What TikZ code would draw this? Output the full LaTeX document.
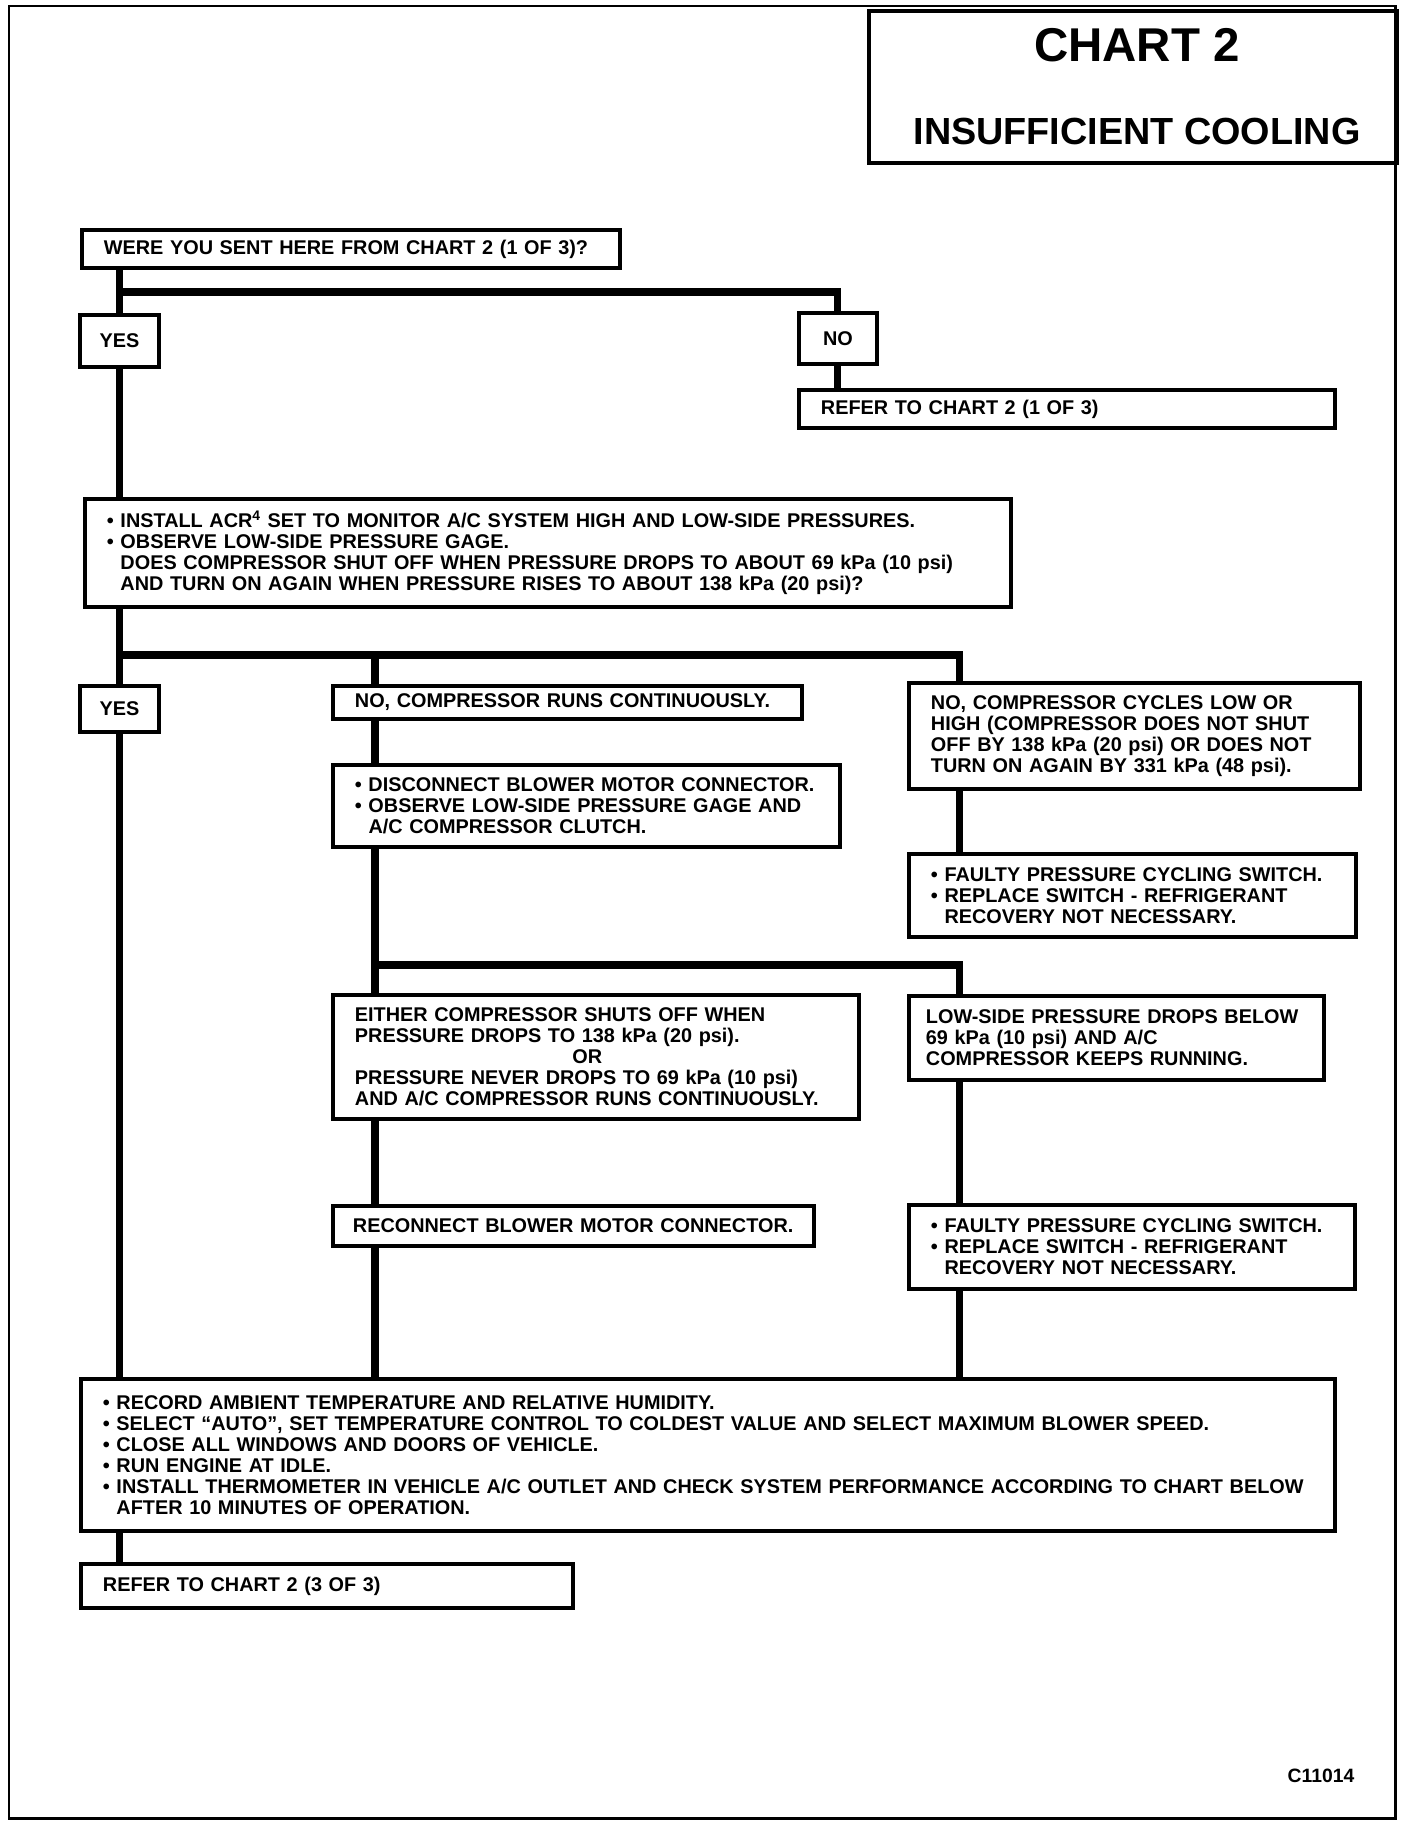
\documentclass[tikz,border=0pt]{standalone}
\usepackage{fontspec}
\setmainfont{Liberation Sans}
\usetikzlibrary{positioning,calc}

\begin{document}
\begin{tikzpicture}[
    x=0.02cm, y=-0.02cm,
    box/.style={draw, line width=2.2pt, anchor=north west, inner xsep=0.44cm, inner ysep=0pt, align=left, font=\fontsize{11.3}{12}\selectfont\bfseries},
    tag/.style={box, align=center, inner xsep=0pt},
    conn/.style={line width=4pt}
]
\useasboundingbox (0,0) rectangle (1408,1828);
\draw[line width=1.7pt] (9,6) rectangle (1395,1818);

% title block
\node[draw, line width=2.2pt, anchor=north west, minimum width=10.56cm, minimum height=3.04cm] (title) at (867,9) {};
\node[font=\fontsize{27}{30}\selectfont\bfseries, anchor=base] (chart) at (1137,62) {CHART 2};
\node[font=\fontsize{21.5}{24}\selectfont\bfseries, anchor=base] (cool) at (1137,145) {INSUFFICIENT COOLING};

% boxes
\node[box, minimum width=10.76cm, text width=9.88cm, minimum height=0.76cm] (were) at (80,228) {WERE YOU SENT HERE FROM CHART 2 (1 OF 3)?};
\node[tag, minimum width=1.58cm, minimum height=1.04cm] (yes1) at (78,313) {YES};
\node[tag, minimum width=1.56cm, minimum height=1.02cm] (no1) at (797,311) {NO};
\node[box, minimum width=10.72cm, text width=9.84cm, minimum height=0.76cm] (refer1) at (797,388) {REFER TO CHART 2 (1 OF 3)};
\node[box, minimum width=18.52cm, text width=17.64cm, minimum height=2.16cm] (acr) at (83,497) {\textbullet\ INSTALL ACR\textsuperscript{4} SET TO MONITOR A/C SYSTEM HIGH AND LOW-SIDE PRESSURES.\\
\textbullet\ OBSERVE LOW-SIDE PRESSURE GAGE.\\
\hphantom{\textbullet\ }DOES COMPRESSOR SHUT OFF WHEN PRESSURE DROPS TO ABOUT 69 kPa (10 psi)\\
\hphantom{\textbullet\ }AND TURN ON AGAIN WHEN PRESSURE RISES TO ABOUT 138 kPa (20 psi)?};
\node[tag, minimum width=1.58cm, minimum height=0.92cm] (yes2) at (78,684) {YES};
\node[box, minimum width=9.38cm, text width=8.5cm, minimum height=0.66cm] (noruns) at (331,684) {NO, COMPRESSOR RUNS CONTINUOUSLY.};
\node[box, minimum width=9.02cm, text width=8.14cm, minimum height=2.12cm] (cycles) at (907,681) {NO, COMPRESSOR CYCLES LOW OR\\
HIGH (COMPRESSOR DOES NOT SHUT\\
OFF BY 138 kPa (20 psi) OR DOES NOT\\
TURN ON AGAIN BY 331 kPa (48 psi).};
\node[box, minimum width=10.14cm, text width=9.26cm, minimum height=1.64cm] (disconnect) at (331,763) {\textbullet\ DISCONNECT BLOWER MOTOR CONNECTOR.\\
\textbullet\ OBSERVE LOW-SIDE PRESSURE GAGE AND\\
\hphantom{\textbullet\ }A/C COMPRESSOR CLUTCH.};
\node[box, minimum width=8.94cm, text width=8.06cm, minimum height=1.66cm] (faulty1) at (907,852) {\textbullet\ FAULTY PRESSURE CYCLING SWITCH.\\
\textbullet\ REPLACE SWITCH - REFRIGERANT\\
\hphantom{\textbullet\ }RECOVERY NOT NECESSARY.};
\node[box, minimum width=10.52cm, text width=9.64cm, minimum height=2.48cm] (either) at (331,993) {EITHER COMPRESSOR SHUTS OFF WHEN\\
PRESSURE DROPS TO 138 kPa (20 psi).\\
\hspace*{4.35cm}OR\\
PRESSURE NEVER DROPS TO 69 kPa (10 psi)\\
AND A/C COMPRESSOR RUNS CONTINUOUSLY.};
\node[box, inner xsep=0.34cm, minimum width=8.3cm, text width=7.62cm, minimum height=1.68cm] (lowside) at (907,994) {LOW-SIDE PRESSURE DROPS BELOW\\
69 kPa (10 psi) AND A/C\\
COMPRESSOR KEEPS RUNNING.};
\node[box, inner xsep=0.4cm, minimum width=9.62cm, text width=8.82cm, minimum height=0.8cm] (reconnect) at (331,1204) {RECONNECT BLOWER MOTOR CONNECTOR.};
\node[box, minimum width=8.92cm, text width=8.04cm, minimum height=1.68cm] (faulty2) at (907,1203) {\textbullet\ FAULTY PRESSURE CYCLING SWITCH.\\
\textbullet\ REPLACE SWITCH - REFRIGERANT\\
\hphantom{\textbullet\ }RECOVERY NOT NECESSARY.};
\node[box, minimum width=25.08cm, text width=24.2cm, minimum height=3.04cm] (record) at (79,1377) {\textbullet\ RECORD AMBIENT TEMPERATURE AND RELATIVE HUMIDITY.\\
\textbullet\ SELECT ``AUTO'', SET TEMPERATURE CONTROL TO COLDEST VALUE AND SELECT MAXIMUM BLOWER SPEED.\\
\textbullet\ CLOSE ALL WINDOWS AND DOORS OF VEHICLE.\\
\textbullet\ RUN ENGINE AT IDLE.\\
\textbullet\ INSTALL THERMOMETER IN VEHICLE A/C OUTLET AND CHECK SYSTEM PERFORMANCE ACCORDING TO CHART BELOW\\
\hphantom{\textbullet\ }AFTER 10 MINUTES OF OPERATION.};
\node[box, minimum width=9.84cm, text width=8.96cm, minimum height=0.88cm] (refer3) at (79,1562) {REFER TO CHART 2 (3 OF 3)};
\node[font=\fontsize{11}{12}\selectfont\bfseries] (code) at (1321,1776) {C11014};

% junctions
\coordinate (j1) at (117,292);
\coordinate (j2) at (117,655);
\coordinate (c2) at (375,655);
\coordinate (c3) at (959,655);
\coordinate (j3) at (375,965);
\coordinate (c4) at (959,965);

% connectors
\draw[conn] (were.south -| yes1.north) -- (yes1.north);
\draw[conn] (j1) -| (no1.north);
\draw[conn] (no1.south) -- (refer1.north -| no1.south);
\draw[conn] (yes1.south) -- (acr.north -| yes1.south);
\draw[conn] (acr.south -| yes2.north) -- (yes2.north);
\draw[conn] (j2) -- (c3) -- (cycles.north -| c3);
\draw[conn] (c2) -- (noruns.north -| c2);
\draw[conn] (noruns.south -| c2) -- (disconnect.north -| c2);
\draw[conn] (cycles.south -| c3) -- (faulty1.north -| c3);
\draw[conn] (disconnect.south -| c2) -- (j3) -- (c4) -- (lowside.north -| c4);
\draw[conn] (j3) -- (either.north -| j3);
\draw[conn] (either.south -| j3) -- (reconnect.north -| j3);
\draw[conn] (reconnect.south -| j3) -- (record.north -| j3);
\draw[conn] (lowside.south -| c4) -- (faulty2.north -| c4);
\draw[conn] (faulty2.south -| c4) -- (record.north -| c4);
\draw[conn] (yes2.south) -- (record.north -| yes2.south);
\draw[conn] (record.south -| yes2.south) -- (refer3.north -| yes2.south);
\end{tikzpicture}
\end{document}
